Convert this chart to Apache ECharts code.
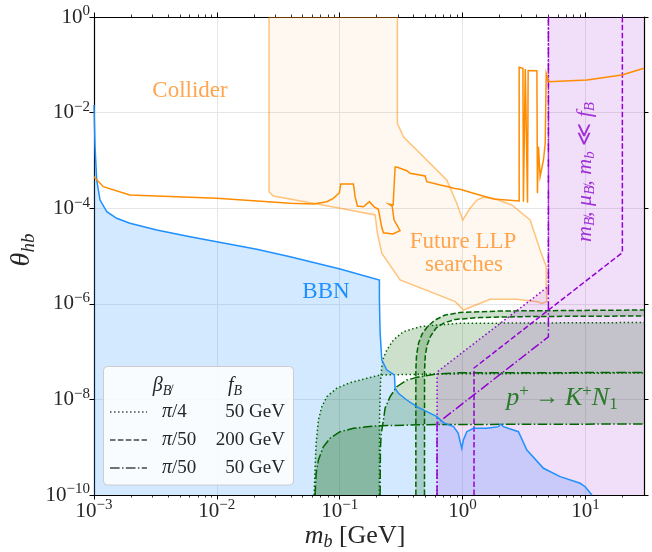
<!DOCTYPE html>
<html><head><meta charset="utf-8">
<script src="https://cdn.jsdelivr.net/npm/echarts@6/dist/echarts.min.js"></script>
<style>html,body{margin:0;padding:0;background:#fff}#c{width:652px;height:552px}</style>
</head><body><div id="c"></div>
<script>
// ---- ticks ----
const xMajor = [1e-3, 1e-2, 1e-1, 1, 10];
const xMinor = [2e-3,3e-3,4e-3,5e-3,6e-3,7e-3,8e-3,9e-3,2e-2,3e-2,4e-2,5e-2,6e-2,7e-2,8e-2,9e-2,0.2,0.3,0.4,0.5,0.6,0.7,0.8,0.9,2,3,4,5,6,7,8,9,20];
const yMajor = [1e-10, 1e-8, 1e-6, 1e-4, 1e-2, 1];

// ---- BBN (blue) ----
const bbnCurve = [[0.001,1.44e-2],[1.02e-3,1.91e-3],[1.052e-3,3.89e-4],[1.12e-3,1.48e-4],[1.27e-3,8.45e-5],[1.53e-3,6.15e-5],[1.96e-3,4.83e-5],[3.24e-3,3.50e-5],[6.05e-3,2.54e-5],[9.98e-3,1.99e-5],[2.11e-2,1.38e-5],[3.95e-2,9.67e-6],[0.1007,5.35e-6],[0.2105,3.15e-6],[0.2105,1.2e-6],[0.2134,2.45e-7],[0.2203,6.67e-8],[0.242,4.12e-8],[0.279,3.24e-8],[0.2825,1.71e-8],[0.3006,1.34e-8],[0.3517,9.71e-9],[0.4244,7.03e-9],[0.618,4.35e-9],[0.700,3.26e-9],[0.844,2.69e-9],[0.921,1.98e-9],[0.986,9.48e-10],[1.016,1.42e-9],[1.083,2.11e-9],[1.227,2.48e-9],[1.578,2.48e-9],[1.96,2.69e-9],[2.05,3.06e-9],[2.15,2.69e-9],[2.85,2.11e-9],[3.34,8.73e-10],[4.56,3.62e-10],[6.23,2.42e-10],[9.07,1.76e-10],[9.96,1.49e-10],[11.3,1e-10]];
const bbnFloor = [[0.001,1e-10]];

// ---- Collider (orange) ----
const colliderCurve = [[0.001,4.56e-4],[1.19e-3,2.82e-4],[1.96e-3,1.89e-4],[9.98e-3,1.61e-4],[3.95e-2,1.27e-4],[6.11e-2,1.22e-4],[7.85e-2,1.37e-4],[8.89e-2,1.61e-4],[9.95e-2,2.11e-4],[0.102,3.21e-4],[0.1294,3.21e-4],[0.1335,1.74e-4],[0.1394,1.11e-4],[0.156,1.07e-4],[0.161,1.17e-4],[0.1746,1.37e-4],[0.1906,1.07e-4],[0.2066,9.48e-5],[0.2134,9.17e-5],[0.220,3.98e-5],[0.227,3.07e-5],[0.2706,2.88e-5],[0.310,3.38e-5],[0.2773,5.66e-5],[0.2672,1.11e-4],[0.2524,1.22e-4],[0.2722,1.17e-4],[0.2825,7.28e-4],[0.295,7.2e-4],[0.352,6.09e-4],[0.374,5.37e-4],[0.496,4.72e-4],[0.512,3.58e-4],[0.657,3.06e-4],[0.768,2.82e-4],[0.844,2.61e-4],[0.955,2.48e-4],[1.227,2.05e-4],[1.786,1.56e-4],[2.89,1.42e-4],[2.89,8.87e-2],[3.10,8.45e-2],[3.13,1.37e-4],[3.20,1.37e-4],[3.24,8.2e-2],[3.36,7.78e-2],[3.38,1.30e-4],[3.42,7.6e-2],[4.03,7.53e-2],[4.07,2.05e-4],[4.15,1.94e-3],[4.28,4.56e-4],[4.56,1.02e-3],[4.71,2.28e-3],[4.80,6.64e-2],[5.01,4.43e-2],[10.3,4.81e-2],[19.8,6.12e-2],[30,8.45e-2]];

// ---- Future LLP searches (outline) ----
const llpOutline = [[2.66e-2,1],[2.66e-2,2.21e-4],[2.88e-2,1.80e-4],[5.74e-2,1.30e-4],[0.1007,9.95e-5],[0.194,7.21e-5],[0.203,2.98e-5],[0.220,1.14e-5],[0.310,3.15e-6],[0.871,1.11e-6],[1.016,7.42e-7],[1.68,1.24e-6],[2.77,1.24e-6],[4.03,1.11e-6],[4.43,1.02e-6],[4.86,1.11e-6],[4.80,2.69e-6],[4.80,5.97e-6],[4.28,1.34e-5],[3.78,3.50e-5],[3.55,5.66e-5],[2.52,1.17e-4],[1.79,1.61e-4],[1.48,1.69e-4],[1.31,1.48e-4],[1.15,9.95e-5],[1.005,5.66e-5],[0.897,1.27e-4],[0.744,3.89e-4],[0.330,3.13e-3],[0.295,5.97e-3],[0.295,1]];

// ---- p -> K N1 (green), pairs of boundary curves ----
const pkDottedLow = [[0.0619,1e-10],[0.0631,3.91e-10],[0.0643,1.21e-9],[0.0671,3.71e-9],[0.0715,7.03e-9],[0.0785,1.14e-8],[0.0947,1.71e-8],[0.1216,2.24e-8],[0.1663,2.76e-8],[0.2134,3.24e-8],[0.618,3.40e-8],[30,3.57e-8]];
const pkDottedHigh = [[0.2102,1e-10],[0.211,3.71e-9],[0.2153,2.55e-8],[0.2203,4.83e-8],[0.227,7.35e-8],[0.242,1.08e-7],[0.2737,1.75e-7],[0.330,2.61e-7],[0.4519,3.32e-7],[0.618,3.60e-7],[0.955,3.91e-7],[30,4.06e-7]];
const pkDashedHigh = [[0.417,1e-10],[0.4168,4.12e-8],[0.4223,8.49e-8],[0.439,1.51e-7],[0.469,2.34e-7],[0.515,3.27e-7],[0.598,4.58e-7],[0.722,5.83e-7],[0.955,6.58e-7],[2.02,7.07e-7],[30,7.42e-7]];
const pkDashedLow = [[0.490,1e-10],[0.4905,4.12e-8],[0.498,8.49e-8],[0.515,1.37e-7],[0.550,2.12e-7],[0.610,3.12e-7],[0.708,3.97e-7],[0.871,4.70e-7],[1.39,5.17e-7],[3.55,5.42e-7],[30,5.56e-7]];
const pkDashDotLow = [[0.0631,1e-10],[0.0643,2.84e-10],[0.0671,5.40e-10],[0.0736,1.02e-9],[0.0835,1.54e-9],[0.1007,2.11e-9],[0.1294,2.48e-9],[0.1663,2.69e-9],[0.2134,2.82e-9],[0.618,2.98e-9],[30,3.06e-9]];
const pkDashDotHigh = [[0.2134,1e-10],[0.2144,8.73e-10],[0.2173,1.80e-9],[0.227,3.71e-9],[0.2344,6.61e-9],[0.2573,1.14e-8],[0.2917,1.84e-8],[0.3517,2.55e-8],[0.4519,2.99e-8],[0.618,3.40e-8],[0.955,3.62e-8],[30,3.64e-8]];

// ---- m << f_B (purple) boundaries ----
const fbDotted = [[0.62,1e-10],[0.62,3.74e-8],[5,2.32e-6],[5,1]];
const fbDashed = [[1.24,1e-10],[1.24,4.54e-8],[20,1.18e-5],[20,1]];
const fbDashDot = [[0.62,1e-10],[0.62,3.13e-9],[5,2.04e-7],[5,1]];
const fbCorner = [[30,1],[30,1e-10]];

// ---- styles ----
const SERIF = '"Liberation Serif", "DejaVu Serif", serif';
const DOT = [1.5, 2.5], DASH = [5.5, 2.4], DASHDOT = [9.6, 2.4, 1.5, 2.4];
const C_BLUE = '#1E90FF', C_ORANGE = '#FF8C00', C_GREEN = '#006400', C_PURPLE = '#9400D3';
const TXT = '#262626';

function powLabel(v) {
  const e = Math.round(Math.log10(v));
  if (Math.abs(v / Math.pow(10, e) - 1) > 1e-6) return '';
  return '{b|10}{s|' + (e < 0 ? '\u2212' + (-e) : String(e)) + '}';
}
const richLab = {
  b: {fontFamily: SERIF, fontSize: 21, color: TXT, lineHeight: 26},
  s: {fontFamily: SERIF, fontSize: 15, color: TXT, verticalAlign: 'top', lineHeight: 15}
};

function lineS(data, color, dash, z) {
  return {type: 'line', data: data, xAxisIndex: 0, yAxisIndex: 0, showSymbol: false, symbol: 'none',
    silent: true, animation: false, z: z || 5, clip: true,
    lineStyle: {color: color, width: 1.5, type: dash || 'solid', cap: 'butt', join: 'miter'},
    emphasis: {disabled: true}};
}
function polyS(pts, fill, stroke, z) {
  return {type: 'custom', data: pts, xAxisIndex: 0, yAxisIndex: 0, silent: true, animation: false,
    z: z || 2, clip: true,
    renderItem: function (p, api) {
      if (p.dataIndex !== 0) return null;
      return {type: 'polygon', shape: {points: pts.map(function (q) { return api.coord(q); })},
        style: {fill: fill, stroke: stroke || null, lineWidth: stroke ? 1.5 : 0}};
    }};
}

const xBase = {type: 'log', logBase: 10, min: 0.001, max: 30};
const yBase = {type: 'log', logBase: 10, min: 1e-10, max: 1};
const spine = {show: true, onZero: false, lineStyle: {color: '#000', width: 1.2}};
const tickMaj = function (vals) { return {show: true, inside: false, length: 4.5, customValues: vals, lineStyle: {color: '#000', width: 1}}; };
const tickMin = function (vals) { return {show: true, inside: false, length: 2.5, customValues: vals, lineStyle: {color: '#000', width: 0.8}}; };
const grid = {show: true, lineStyle: {color: '#e6e6e6', width: 1}};

function legText(x, y, text, rich, align) {
  return {type: 'text', x: x, y: y, z: 100, style: {text: text, align: align || 'center', verticalAlign: 'middle', rich: rich}};
}
const legRich = {
  i: {fontFamily: SERIF, fontStyle: 'italic', fontSize: 20, fill: TXT, lineHeight: 24},
  n: {fontFamily: SERIF, fontSize: 19, fill: TXT, lineHeight: 24},
  sb: {fontFamily: SERIF, fontStyle: 'italic', fontSize: 14, fill: TXT, verticalAlign: 'bottom', lineHeight: 14}
};

const option = {
  animation: false,
  backgroundColor: '#fff',
  grid: {left: 94, right: 8, top: 17, bottom: 57, containLabel: false, outerBoundsMode: 'none'},
  xAxis: [
    Object.assign({}, xBase, {position: 'bottom', axisLine: spine, axisTick: tickMaj(xMajor),
      axisLabel: {show: true, customValues: xMajor, formatter: powLabel, rich: richLab, margin: 3},
      splitLine: grid}),
    Object.assign({}, xBase, {position: 'top', axisLine: spine, axisTick: tickMaj(xMajor),
      axisLabel: {show: false}, splitLine: {show: false}}),
    Object.assign({}, xBase, {position: 'bottom', axisLine: {show: false}, axisTick: tickMin(xMinor),
      axisLabel: {show: false}, splitLine: {show: false}}),
    Object.assign({}, xBase, {position: 'top', axisLine: {show: false}, axisTick: tickMin(xMinor),
      axisLabel: {show: false}, splitLine: {show: false}})
  ],
  yAxis: [
    Object.assign({}, yBase, {position: 'left', axisLine: spine, axisTick: tickMaj(yMajor),
      axisLabel: {show: true, customValues: yMajor, formatter: powLabel, rich: richLab, margin: 4},
      splitLine: grid}),
    Object.assign({}, yBase, {position: 'right', axisLine: spine, axisTick: tickMaj(yMajor),
      axisLabel: {show: false}, splitLine: {show: false}})
  ],
  series: [
    polyS(bbnCurve.concat(bbnFloor), 'rgba(30,144,255,0.2)', null, 1),
    polyS(llpOutline, 'rgba(255,140,0,0.06)', 'rgba(255,140,0,0.5)', 2),
    polyS(pkDottedLow.concat(pkDottedHigh.slice().reverse()), 'rgba(0,100,0,0.2)', null, 2),
    polyS(pkDashedHigh.concat(pkDashedLow.slice().reverse()), 'rgba(0,100,0,0.2)', null, 2),
    polyS(pkDashDotLow.concat(pkDashDotHigh.slice().reverse()), 'rgba(0,100,0,0.2)', null, 2),
    polyS(fbDotted.concat(fbCorner), 'rgba(148,0,211,0.13)', null, 2),
    lineS(bbnCurve, C_BLUE, 'solid', 6),
    lineS(colliderCurve, C_ORANGE, 'solid', 6),
    lineS(pkDottedLow, C_GREEN, DOT, 5),
    lineS(pkDottedHigh, C_GREEN, DOT, 5),
    lineS(pkDashedHigh, C_GREEN, DASH, 5),
    lineS(pkDashedLow, C_GREEN, DASH, 5),
    lineS(pkDashDotLow, C_GREEN, DASHDOT, 5),
    lineS(pkDashDotHigh, C_GREEN, DASHDOT, 5),
    lineS(fbDotted, C_PURPLE, DOT, 5),
    lineS(fbDashed, C_PURPLE, DASH, 5),
    lineS(fbDashDot, C_PURPLE, DASHDOT, 5)
  ],
  graphic: [
    {type: 'text', x: 190, y: 91, z: 50, silent: true,
      style: {text: 'Collider', font: '23px ' + SERIF, fill: '#ffa54f', align: 'center', verticalAlign: 'middle'}},
    {type: 'text', x: 463, y: 242, z: 50, silent: true,
      style: {text: 'Future LLP', font: '23px ' + SERIF, fill: '#ffa54f', align: 'center', verticalAlign: 'middle'}},
    {type: 'text', x: 464, y: 265, z: 50, silent: true,
      style: {text: 'searches', font: '23px ' + SERIF, fill: '#ffa54f', align: 'center', verticalAlign: 'middle'}},
    {type: 'text', x: 326, y: 292, z: 50, silent: true,
      style: {text: 'BBN', font: '23px ' + SERIF, fill: C_BLUE, align: 'center', verticalAlign: 'middle'}},
    {type: 'text', x: 562, y: 398, z: 50, silent: true,
      style: {text: '{i|p}{sp|+}{n| \u2192 }{i|K}{sp|+}{i|N}{sb|1}', align: 'center', verticalAlign: 'middle',
        rich: {
          i: {fontFamily: SERIF, fontStyle: 'italic', fontSize: 26, fill: '#2a7a2a', lineHeight: 30},
          n: {fontFamily: SERIF, fontSize: 24, fill: '#2a7a2a', lineHeight: 30},
          sp: {fontFamily: SERIF, fontSize: 17, fill: '#2a7a2a', verticalAlign: 'top', lineHeight: 17},
          sb: {fontFamily: SERIF, fontSize: 17, fill: '#2a7a2a', verticalAlign: 'bottom', lineHeight: 17}
        }}},
    {type: 'text', x: 585, y: 172, rotation: Math.PI / 2, z: 50, silent: true,
      style: {text: '{i|m}{sb|B\u0338}{n|, }{i|\u03bc}{sb|B\u0338}{n|, }{i|m}{sb|b}{n| \u226a }{i|f}{sb|B}', align: 'center', verticalAlign: 'middle',
        rich: {
          i: {fontFamily: SERIF, fontStyle: 'italic', fontSize: 22, fill: '#a030d8', lineHeight: 26},
          n: {fontFamily: SERIF, fontSize: 22, fill: '#a030d8', lineHeight: 26},
          sb: {fontFamily: SERIF, fontStyle: 'italic', fontSize: 15, fill: '#a030d8', verticalAlign: 'bottom', lineHeight: 15}
        }}},
    // axis titles
    {type: 'text', x: 355, y: 536, z: 50, silent: true,
      style: {text: '{i|m}{sb|b}{n| [GeV]}', align: 'center', verticalAlign: 'middle',
        rich: {
          i: {fontFamily: SERIF, fontStyle: 'italic', fontSize: 26, fill: TXT, lineHeight: 30},
          n: {fontFamily: SERIF, fontSize: 26, fill: TXT, lineHeight: 30},
          sb: {fontFamily: SERIF, fontStyle: 'italic', fontSize: 18, fill: TXT, verticalAlign: 'bottom', lineHeight: 18}
        }}},
    {type: 'text', x: 22, y: 250, rotation: Math.PI / 2, z: 50, silent: true,
      style: {text: '{i|\u03b8}{sb|hb}', align: 'center', verticalAlign: 'middle',
        rich: {
          i: {fontFamily: SERIF, fontStyle: 'italic', fontSize: 28, fill: TXT, lineHeight: 32},
          sb: {fontFamily: SERIF, fontStyle: 'italic', fontSize: 19, fill: TXT, verticalAlign: 'bottom', lineHeight: 19}
        }}},
    // legend
    {type: 'rect', z: 100, silent: true, shape: {x: 103.5, y: 366.5, width: 190, height: 118.5, r: 4},
      style: {fill: 'rgba(255,255,255,0.85)', stroke: '#cccccc', lineWidth: 1}},
    legText(162, 386, '{i|\u03b2}{sb|B\u0338}', legRich),
    legText(235, 386, '{i|f}{sb|B}', legRich),
    {type: 'line', z: 100, silent: true, shape: {x1: 110, y1: 412, x2: 147, y2: 412}, style: {stroke: '#444', lineWidth: 1.5, lineDash: DOT}},
    {type: 'line', z: 100, silent: true, shape: {x1: 110, y1: 440, x2: 147, y2: 440}, style: {stroke: '#444', lineWidth: 1.5, lineDash: DASH}},
    {type: 'line', z: 100, silent: true, shape: {x1: 110, y1: 468, x2: 147, y2: 468}, style: {stroke: '#444', lineWidth: 1.5, lineDash: DASHDOT}},
    legText(162, 412, '{i|\u03c0}{n|/4}', legRich, 'left'),
    legText(162, 440, '{i|\u03c0}{n|/50}', legRich, 'left'),
    legText(162, 468, '{i|\u03c0}{n|/50}', legRich, 'left'),
    legText(285, 412, '{n|50 GeV}', legRich, 'right'),
    legText(285, 440, '{n|200 GeV}', legRich, 'right'),
    legText(285, 468, '{n|50 GeV}', legRich, 'right')
  ]
};
const chart = echarts.init(document.getElementById('c'), null, {renderer: 'canvas'});
chart.setOption(option);
</script>
</body></html>
